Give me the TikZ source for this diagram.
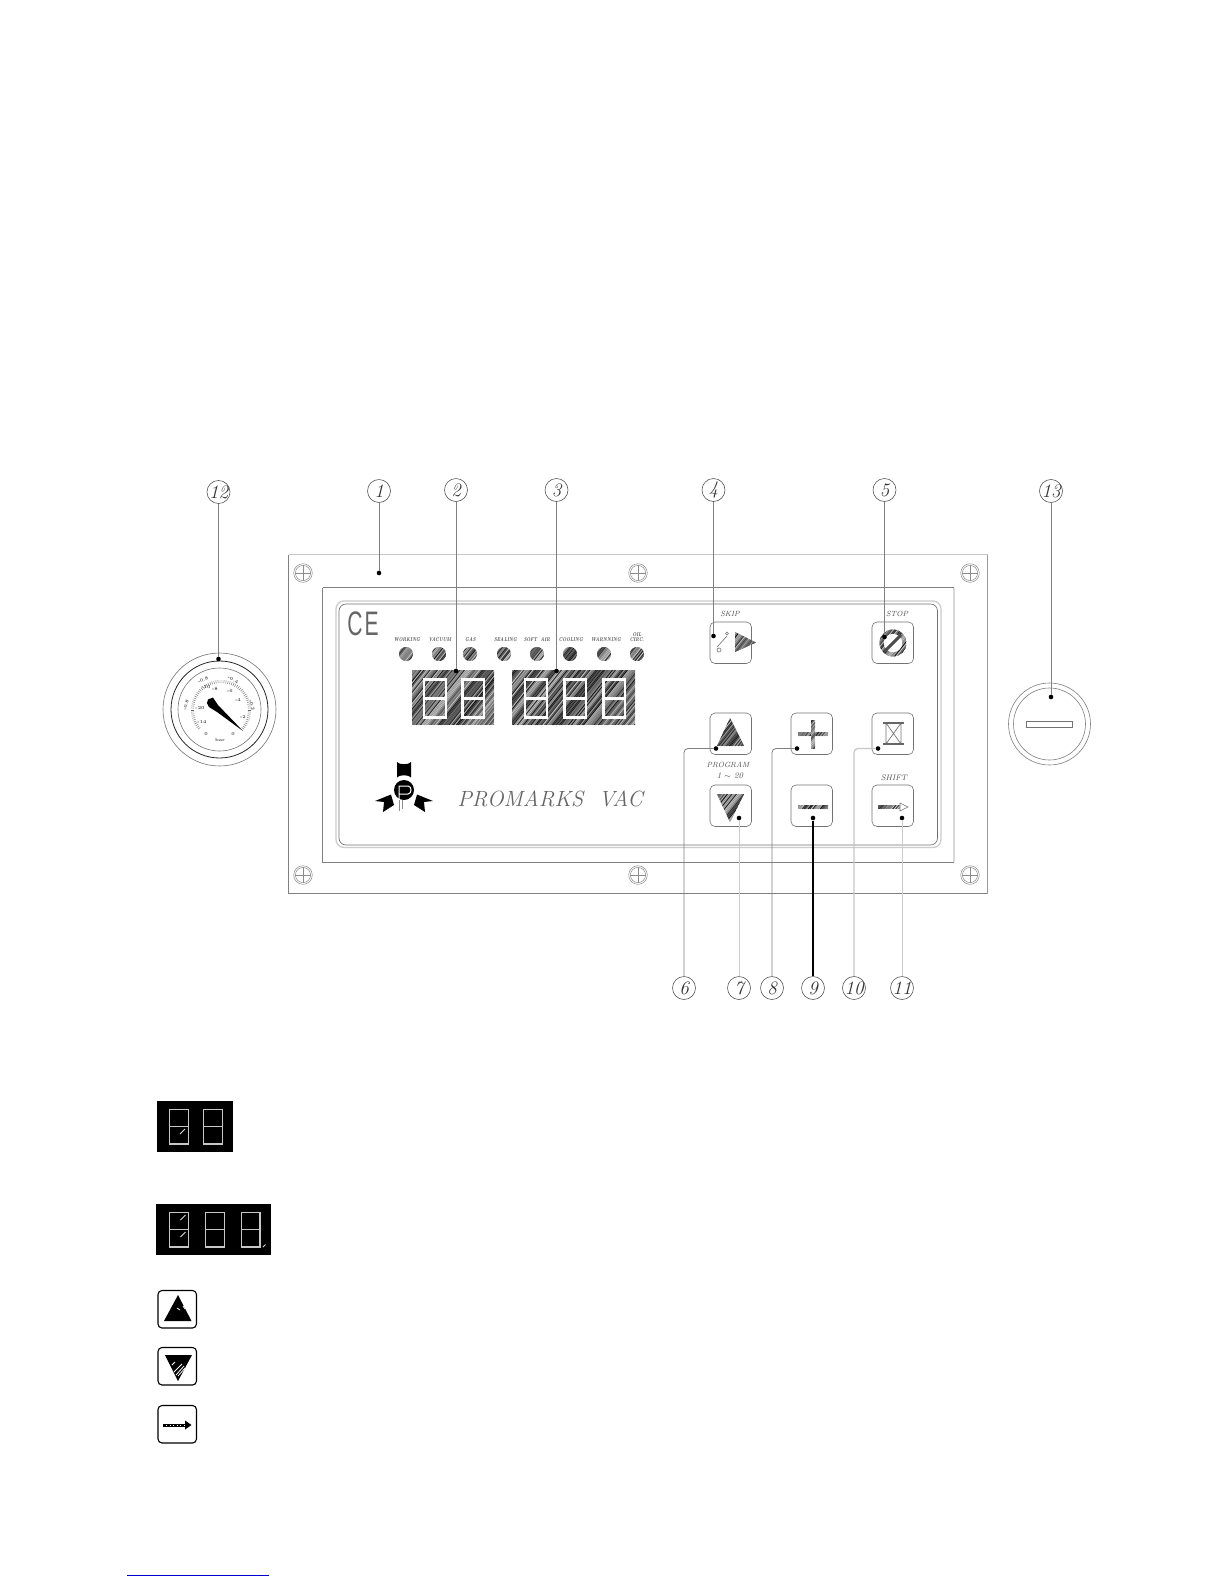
\documentclass[tikz,border=0pt]{standalone}
\usepackage{fontspec}
\newfontfamily\sansce{Liberation Sans}
\pgfmathsetseed{4242}
\newcommand\fs[1]{\fontsize{#1}{#1}\selectfont}
\newcommand\hatchfill[5]{%
 \begin{scope}
 \clip #1;
 \fill[black!55] (#2,#3) rectangle (#4,#5);
 \pgfmathsetmacro\hdx{(#5-#3)*0.8}
 \pgfmathsetmacro\hs{#2-\hdx}
 \pgfmathsetmacro\hn{\hs+1.5}
 \pgfmathsetmacro\he{#4}
 \foreach \hx in {\hs,\hn,...,\he}{
  \pgfmathsetmacro\hg{int(20+75*rnd)}
  \draw[black!\hg,line width=.75] (\hx,#5) -- ++(\hdx,#3-#5);
 }
 \end{scope}}
\newcommand\digit[5]{\draw[#5] (#1,#3) rectangle (#2,#4);
 \draw[#5] (#1,{(#3+#4)/2}) -- (#2,{(#3+#4)/2});}
\newcommand\screw[2]{\draw[screwline] (#1,#2) circle (9.3) (#1,#2) circle (7.6);
 \draw[screwline] (#1-7.6,#2) -- (#1+7.6,#2) (#1,#2-7.6) -- (#1,#2+7.6);}
\tikzset{
 x=1pt,y=-1pt,
 numc/.style={circle,draw=black!65,line width=.6,minimum size=23,inner sep=0,font=\fs{19}\itshape,text=black!80},
 leader/.style={black!50,line width=.8,rounded corners=4},
 leaderlt/.style={black!20,line width=.9,rounded corners=4},
 tip/.style={circle,fill=black,inner sep=0,minimum size=4.6},
 frameA/.style={black!22,line width=.9},
 frameB/.style={black!50,line width=.9},
 screwline/.style={black!45,line width=.5},
 btn/.style={draw=black!55,line width=.6,rounded corners=5},
 ledtxt/.style={font=\fs{5.6}\bfseries\itshape,text=black!70,inner sep=0,align=center,xscale=.78},
 btntxt/.style={font=\fs{7.5}\itshape,text=black!70,inner sep=0,align=center},
 segw/.style={white,line width=2.1},
 segk/.style={black!22,line width=1.3},
 gaugetxt/.style={font=\fs{4.5}\bfseries,text=black!70,inner sep=0},
 whitetick/.style={white,line width=.8},
}
\begin{document}
\begin{tikzpicture}
\useasboundingbox (0,0) rectangle (1225,1585);
\fill[white] (0,0) rectangle (1225,1585);

% frames
\draw[frameA] (288.5,554.5) -- (987.5,554.5);
\draw[frameB] (288.5,554.5) -- (288.5,893.5);
\draw[frameB] (288.5,893.5) -- (987.5,893.5);
\draw[black!40,line width=.9] (987.5,554.5) -- (987.5,893.5);
\draw[frameB] (322.5,587.5) -- (954,587.5);
\draw[frameB] (322.5,587.5) -- (322.5,862) -- (954,862);
\draw[black!15,line width=1.6] (954,587.5) -- (954,862);
\draw[black!20,line width=1.3,rounded corners=8] (336,601) rectangle (941,847.5);
\draw[black!55,line width=.7,rounded corners=7] (339,604) rectangle (937.5,845);

% screws
\screw{303}{573}\screw{638}{573}\screw{970}{573}
\screw{303}{875}\screw{638}{875}\screw{970}{875}

% CE mark
\node[inner sep=0,font=\sansce\fs{34},text=black!60,xscale=.62] (ce) at (363,624) {C\kern3pt E};

% LEDs
\foreach \lx/\ltxt/\tx in {406/WORKING/407,439/VACUUM/440,470/GAS/470.5,504/SEALING/505.5,537/SOFT\ \ AIR/537,570/COOLING/571,604/WARNNING/606}{
 \node[ledtxt] at (\tx,640) {\ltxt};
 \hatchfill{(\lx,654) circle (7)}{\lx-8}{646}{\lx+8}{662}
}
\node[ledtxt] (oil) at (637,637.5) {OIL\\[-.5pt]CIRC.};
\hatchfill{(637,654) circle (7)}{629}{646}{645}{662}

% displays
\hatchfill{(412,670.5) rectangle (494,725)}{412}{670}{494}{725}
\hatchfill{(512,670.5) rectangle (635,725)}{512}{670}{635}{725}
\digit{424}{446}{679.5}{717.5}{segw}
\digit{462.5}{484}{679.5}{717.5}{segw}
\digit{525}{547}{679.5}{717.5}{segw}
\digit{564.5}{586}{679.5}{717.5}{segw}
\digit{603.5}{625}{679.5}{717.5}{segw}

% logo
\fill[black] (397,762) .. controls (399,765) and (409,765) .. (411,762) -- (411,777.5) .. controls (409,774.5) and (399,774.5) .. (397,777.5) -- cycle;
\fill[black] (404,790) circle (10);
\fill[black] (375,801) -- (391,794.5) -- (394,805) -- (383,812) -- (384,802) -- cycle;
\fill[black] (433,801) -- (417,794.5) -- (414,805) -- (425,812) -- (424,802) -- cycle;
\draw[white,line width=1] (399,811) -- (399,786) -- (408,786) .. controls (412,786) and (412,794) .. (408,794) -- (399,794);
\draw[black!45,line width=.6] (399,800) -- (399,811) (402,800) -- (402,809);
\node[inner sep=0,font=\fs{22}\itshape,text=black!60] (brand) at (550,799) {\addfontfeature{LetterSpace=7}PROMARKS\ \ VAC};

% buttons
\foreach \bx/\by in {710/622,872/622,710/713,791/713,872/713,710/785,791/785,872/785}{
 \draw[btn] (\bx,\by) rectangle (\bx+41.5,\by+41.5);
}
\node[btntxt] (skip) at (730,613.5) {SKIP};
\node[btntxt] (stop) at (897,613.5) {STOP};
\node[btntxt] (prog) at (728,764.5) {PROGRAM};
\node[btntxt,font=\fs{8.5}\itshape] (range) at (730,776) {1 $\sim$ 20};
\node[btntxt,font=\fs{8}\itshape] (shift) at (894,777.5) {SHIFT};

% skip icon
\draw[black!55,line width=.6] (719,650) circle (2) (727,633.5) circle (1.5);
\draw[black!55,line width=.6] (717,647) -- (727,636);
\hatchfill{(735,632) -- (735,652) -- (756,642.5) -- cycle}{735}{632}{756}{652}
% stop icon
\hatchfill{(893,643) circle (13.5)}{879}{629}{907}{657}
\fill[white] (893,643) circle (9.2);
\draw[black!70,line width=3] (885,651) -- (901,635);
% up/down
\hatchfill{(730,718) -- (717,746) -- (744,746) -- cycle}{717}{718}{744}{746}
\hatchfill{(717,794) -- (744,794) -- (730,822) -- cycle}{717}{794}{744}{822}
% plus, minus
\hatchfill{(798,732) rectangle (828,736)}{798}{732}{828}{736}
\hatchfill{(811,720) rectangle (815,749)}{811}{720}{815}{749}
\hatchfill{(798,805) rectangle (828,809)}{798}{805}{828}{809}
% hourglass
\draw[black!55,line width=.7] (886,723) rectangle (901,744) (886,723) -- (901,744) (901,723) -- (886,744);
\draw[black!60,line width=1.2] (883,723) -- (904,723) (883,744) -- (904,744);
% shift arrow
\hatchfill{(878,805.5) rectangle (900,808.5)}{878}{805}{900}{809}
\draw[black!55,line width=.6] (900,803) -- (908,807) -- (900,811) -- cycle;

% gauge
\draw[black!55,line width=.6] (219.5,709.5) circle (56.5);
\draw[black!85,line width=.8] (219.5,709.5) circle (48.5);
\draw[black!55,line width=.6] (219.5,709.5) circle (41.5);
\foreach \a in {-40,-36,...,220}{
 \draw[black!60,line width=.4] ({221+27*cos(\a)},{710-27*sin(\a)}) -- ({221+30*cos(\a)},{710-30*sin(\a)});
}
\node[gaugetxt,rotate=25] at (203,680) {-0.8};
\node[gaugetxt,rotate=-25] at (233,680) {-0.4};
\node[gaugetxt,rotate=75] at (186,705) {-0.8};
\node[gaugetxt,rotate=-75] at (252,705) {-0.2};
\node[gaugetxt] at (206,687) {-10};
\node[gaugetxt] at (215,689) {-8};
\node[gaugetxt] at (230,691) {-6};
\node[gaugetxt] at (238,700) {-4};
\node[gaugetxt] at (243,717) {-2};
\node[gaugetxt] at (200,708) {-20};
\node[gaugetxt] at (202,722) {-14};
\node[gaugetxt] at (206,734) {0};
\node[gaugetxt] at (233,734) {0};
\node[gaugetxt] at (220,739.5) {bar};
\fill[black] (208,699.5) -- (213,697.5) -- (218,705) -- (243,731) -- (217,712) -- (209,707) -- (207,703) -- cycle;

% key-switch
\draw[black!50,line width=.6] (1049.5,724) circle (41);
\draw[black!50,line width=.6] (1049.5,724) circle (36);
\draw[black!55,line width=.7,fill=white] (1026,721) rectangle (1072,727);

% labels and leaders
\node[numc] (n12) at (218.5,492) {12};
\node[numc] (n1) at (379,491) {1};
\node[numc] (n2) at (456,490) {2};
\node[numc] (n3) at (556.5,490) {3};
\node[numc] (n4) at (713.5,490) {4};
\node[numc] (n5) at (884.5,490) {5};
\node[numc] (n13) at (1051,491) {13};
\node[numc] (n6) at (684,988) {6};
\node[numc] (n7) at (739,988) {7};
\node[numc] (n8) at (772,988) {8};
\node[numc] (n9) at (813,988) {9};
\node[numc] (n10) at (854,988) {10};
\node[numc] (n11) at (902,988) {11};
\node[tip] (d12) at (218.5,659) {};
\node[tip] (d1) at (379,573) {};
\node[tip] (d2) at (456,671) {};
\node[tip] (d3) at (556.5,671) {};
\node[tip] (d4) at (713.5,636) {};
\node[tip] (d5) at (884.5,637) {};
\node[tip] (d13) at (1051,697) {};
\node[tip] (d6) at (716,748.5) {};
\node[tip] (d7) at (739,818) {};
\node[tip] (d8) at (797,748.5) {};
\node[tip] (d9) at (813,818) {};
\node[tip] (d10) at (878,748.5) {};
\node[tip] (d11) at (902,818) {};
\draw[leader] (n12) -- (d12);
\draw[leader] (n1) -- (d1);
\draw[leader] (n2) -- (d2);
\draw[leader] (n3) -- (d3);
\draw[leader] (n4) -- (d4);
\draw[leader] (n5) -- (d5);
\draw[leader] (n13) -- (d13);
\draw[leader] (d6) -| (n6);
\draw[leaderlt] (d7) -- (n7);
\draw[leader] (d8) -| (n8);
\draw[black,line width=1.1] (d9) -- (n9);
\draw[black!22,line width=1.3,rounded corners=4] (d10) -| (n10);
\draw[leaderlt] (d11) -- (n11);

% legend displays
\fill[black] (157,1101) rectangle (233,1152);
\digit{169.5}{188.5}{1109.5}{1144}{segk}
\digit{203.5}{222.5}{1109.5}{1144}{segk}
\draw[black!15,line width=1] (180,1134) -- (185,1129);
\fill[black] (156,1204) rectangle (271,1255);
\digit{169.5}{188.5}{1212.5}{1247}{segk}
\digit{205.5}{224.5}{1212.5}{1247}{segk}
\digit{241.5}{260}{1212.5}{1247}{segk}
\draw[black!15,line width=1] (180.5,1220) -- (185.5,1215) (180.5,1237) -- (185.5,1232) (263,1247) -- (265.5,1244.5);

% legend buttons
\draw[black,line width=1.1,rounded corners=4] (158,1290.5) rectangle (196.5,1328);
\fill[black] (178,1295) -- (164,1321) -- (191.5,1321) -- cycle;
\draw[whitetick] (177,1308) -- (180,1310) (183,1306) -- (185,1309);
\draw[black,line width=1.1,rounded corners=4] (158,1347.5) rectangle (196.5,1385);
\fill[black] (165,1355) -- (192,1355) -- (178,1381) -- cycle;
\draw[whitetick] (172,1365) -- (175,1362) (174,1372) -- (182,1364) (176,1375) -- (184,1366) (178,1376) -- (185,1368);
\draw[black,line width=1.1,rounded corners=4] (158,1405.5) rectangle (196.5,1443);
\draw[black,line width=3] (163,1425) -- (187,1425);
\draw[white,line width=.8,dash pattern=on 1 off 2.5] (166,1425) -- (186,1425);
\fill[black] (185,1420.5) -- (191.5,1425) -- (185,1429.5) -- cycle;

% bottom line
\draw[blue!80!black,line width=1] (127,1575.5) -- (269,1575.5);
\end{tikzpicture}
\end{document}
